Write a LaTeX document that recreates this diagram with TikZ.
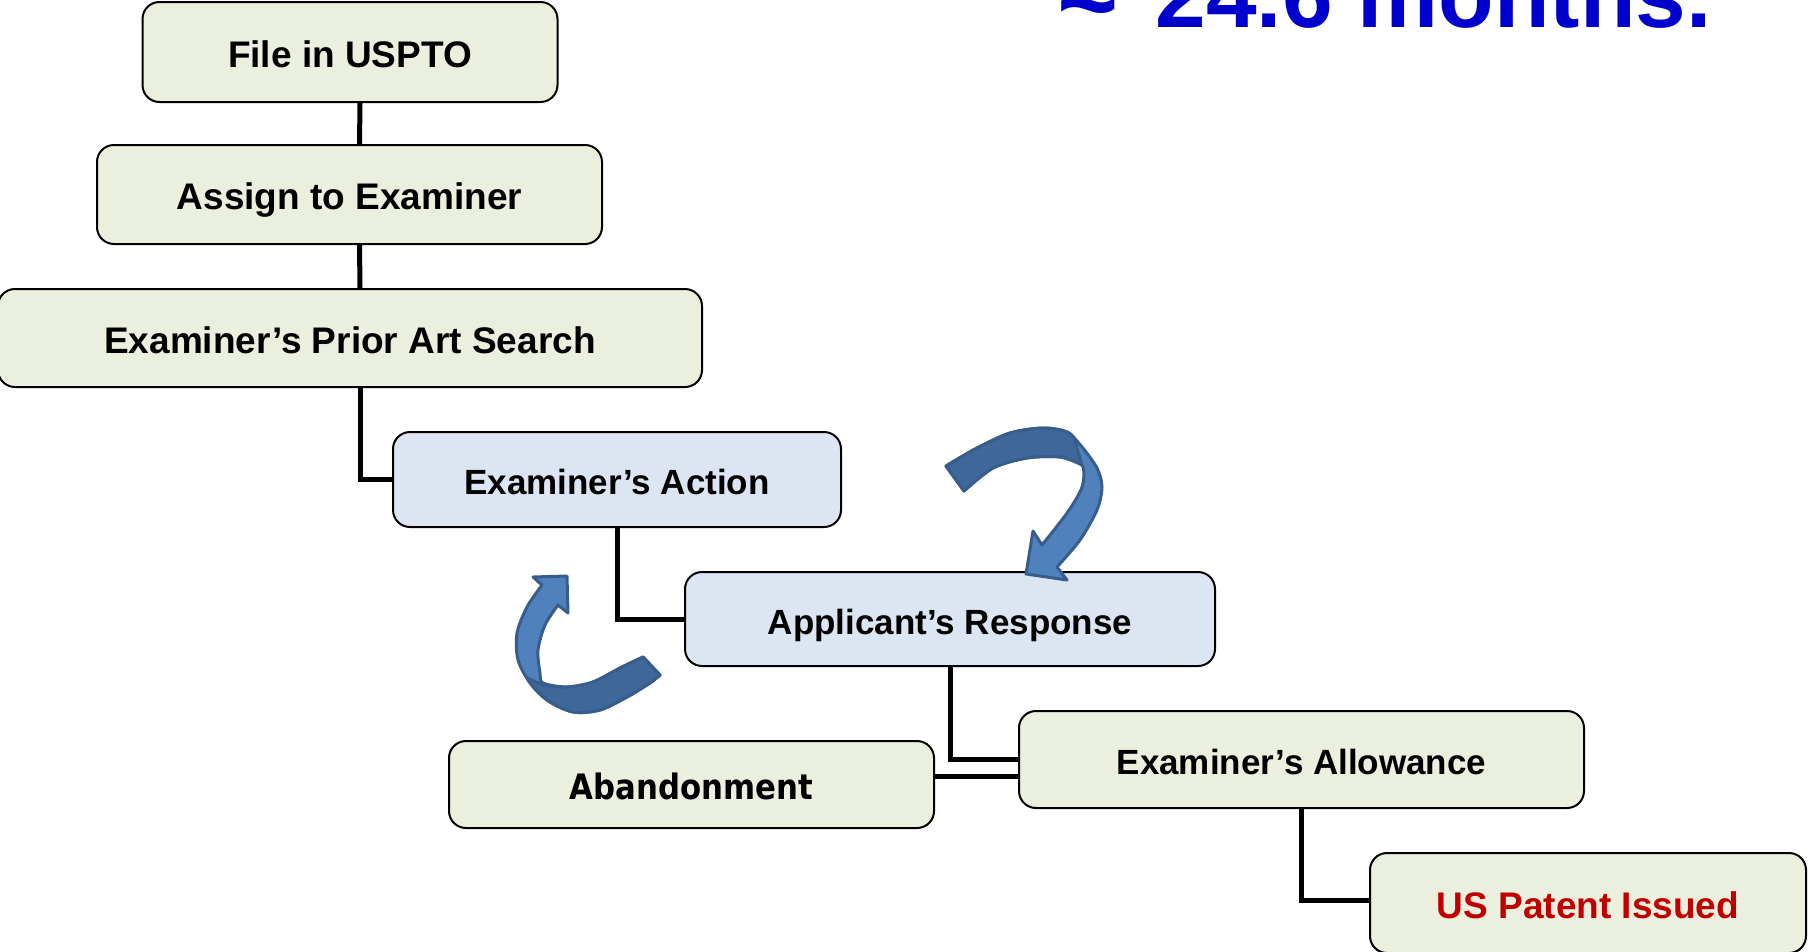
\documentclass[tikz,border=0pt]{standalone}
\usepackage{fontspec}
\setmainfont{Liberation Sans}
\newfontfamily\abfont[FakeStretch=0.88]{DejaVu Sans}
\usepackage{tikz}
\usetikzlibrary{positioning}

\definecolor{boxgreen}{RGB}{235,240,222}
\definecolor{boxblue}{RGB}{220,230,242}
\definecolor{arrowlight}{RGB}{79,129,189}
\definecolor{arrowdark}{RGB}{62,104,154}
\definecolor{arrowline}{RGB}{56,93,138}
\definecolor{titleblue}{RGB}{0,0,204}
\definecolor{patentred}{RGB}{192,0,0}

\begin{document}
\begin{tikzpicture}[x=1pt, y=-1pt,
    stage/.style={draw, line width=2pt, rounded corners=17pt, fill=boxgreen,
        font=\fontsize{37}{44}\selectfont\bfseries, inner sep=0pt,
        text height=30pt, text depth=0pt},
    stageblue/.style={stage, fill=boxblue},
    smalltext/.style={font=\fontsize{35}{42}\selectfont\bfseries},
    link/.style={line width=5pt},
    blockarrow/.style={draw=arrowline, line width=3pt, line join=round}]
    \useasboundingbox (0,0) rectangle (1808,951);

    % title, cut off by the page top
    \node [anchor=base east, inner sep=0pt, text=titleblue,
        font=\fontsize{91}{100}\selectfont\bfseries] (title) at (1712,27)
        {\scalebox{1.15}{≈}\hspace{13pt} 24.6 months.};

    % stages
    \node [stage, minimum width=415pt, minimum height=100pt] (file) at (350,52) {File in USPTO};
    \node [stage, minimum width=505pt, minimum height=99pt] (assign) at (349.5,194.5) {Assign to Examiner};
    \node [stage, minimum width=704pt, minimum height=98pt] (search) at (350,338) {Examiner’s Prior Art Search};
    \node [stageblue, smalltext, minimum width=448pt, minimum height=95pt] (action) at (617,479.5) {Examiner’s Action};
    \node [stageblue, smalltext, minimum width=530pt, minimum height=94pt] (response) at (950,619) {Applicant’s Response};
    \node [stage, smalltext, minimum width=565pt, minimum height=97pt] (allow) at (1301.5,759.5) {Examiner’s Allowance};
    \node [stage, minimum width=485pt, minimum height=87pt,
        font=\fontsize{35}{42}\selectfont\abfont\bfseries] (aband) at (691.5,784.5) {Abandonment};
    \node [stage, minimum width=436pt, minimum height=100pt, text=patentred] (patent) at (1588,903) {US Patent Issued};

    % connectors
    \draw [link] ([xshift=10pt]file.south) -- ([xshift=10pt]assign.north);
    \draw [link] ([xshift=10pt]assign.south) -- ([xshift=10pt]search.north);
    \draw [link] ([xshift=10pt]search.south) |- (action.west);
    \draw [link] (action.south) |- (response.west);
    \draw [link] (response.south) |- (allow.west);
    \draw [link] ([yshift=8pt]aband.east) -- ([yshift=8pt]aband.east -| allow.west);
    \draw [link] (allow.south) |- ([yshift=3pt]patent.west);

    % curved arrow over the response
    \filldraw [blockarrow, fill=arrowlight]
        plot [smooth] coordinates {(946,466) (977,448) (1010,433) (1043,428) (1067,432) (1082,447)
            (1097,468) (1102,487) (1097,510) (1080,540) (1057,567)}
        -- (1067,580) -- (1026,574) -- (1033,531) -- (1042,545)
        -- plot [smooth] coordinates {(1042,545) (1067,513) (1082,487) (1082,465) (1060,457)
            (1027,458) (993,468) (964,491)} -- cycle;
    \filldraw [blockarrow, fill=arrowdark]
        plot [smooth] coordinates {(946,466) (977,448) (1010,433) (1043,428) (1067,432) (1074,438)}
        -- (1082,465)
        -- plot [smooth] coordinates {(1082,465) (1060,457) (1027,458) (993,468) (964,491)} -- cycle;

    % curved arrow under the action
    \filldraw [blockarrow, fill=arrowlight]
        plot [smooth] coordinates {(542,585) (527,607) (517,633) (518,660) (530,683) (547,700)
            (573,712) (600,710) (627,697) (650,683) (660,675)}
        -- (643,657)
        -- plot [smooth] coordinates {(643,657) (620,668) (593,682) (567,687) (543,683)
            (540,673) (538,650) (545,625) (558,605)}
        -- (568,613) -- (567,576) -- (533,577) -- cycle;
    \filldraw [blockarrow, fill=arrowdark]
        plot [smooth] coordinates {(527,678) (547,700) (573,712) (600,710) (627,697) (650,683) (660,675)}
        -- (643,657)
        -- plot [smooth] coordinates {(643,657) (620,668) (593,682) (567,687) (543,685)} -- cycle;
\end{tikzpicture}
\end{document}
